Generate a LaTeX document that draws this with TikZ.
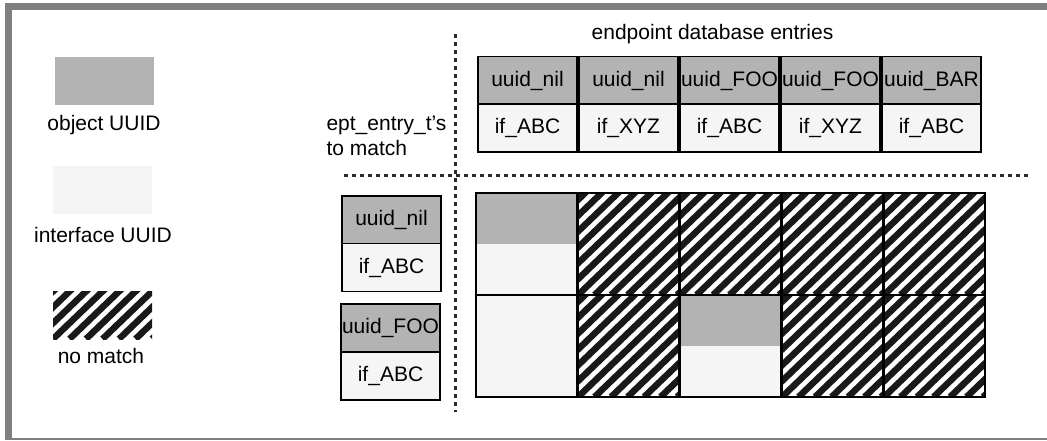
\documentclass[tikz,border=0pt]{standalone}
\usepackage{fontspec}
\setmainfont{Liberation Sans}
\usepackage{tikz}
\definecolor{objgray}{HTML}{B3B3B3}
\definecolor{ifwhite}{HTML}{F5F5F5}
\definecolor{framegray}{HTML}{808080}
\definecolor{dotgray}{HTML}{2A2A2A}
\usetikzlibrary{calc}

\tikzset{
  label text/.style={font=\fontsize{21}{25}\selectfont},
  entry/.style={
    rectangle,
    draw=black,
    line width=1.5pt,
    minimum width=99pt,
    minimum height=48pt,
    inner sep=0pt,
    label text},
  objentry/.style={entry, fill=objgray},
  ifentry/.style={entry, fill=ifwhite},
  matcell/.style={
    rectangle,
    draw=black,
    line width=1.5pt,
    minimum width=101pt,
    minimum height=102pt,
    inner sep=0pt},
  stripes/.style={
    path picture={
      \foreach \k in {-8,...,8}
        \draw[black!90,line width=6.5pt]
          ([xshift=\k*16.5pt]path picture bounding box.south west) -- ++(130pt,125pt);
    }},
  halfmatch/.style={
    fill=ifwhite,
    path picture={
      \fill[objgray] (path picture bounding box.north west)
        rectangle (path picture bounding box.east);
    }},
  ifonly/.style={fill=ifwhite},
  divider/.style={dotgray,line width=3pt,dash pattern=on 4pt off 4pt}
}

\begin{document}
\begin{tikzpicture}[x=1pt,y=-1pt]
  \useasboundingbox (0,0) rectangle (1047,440);

  % frame
  \fill[framegray] (5,3) rectangle (1047,10);
  \fill[framegray] (5,3) rectangle (12,440);
  \draw[framegray,line width=1.5pt] (12,439) -- (1047,439);

  % legend
  \node[rectangle,fill=objgray,minimum width=99pt,minimum height=48pt] at (104.5,81) (lobj) {};
  \node[label text,anchor=base] at (104,130) (lobjt) {object UUID};

  \node[rectangle,fill=ifwhite,minimum width=99pt,minimum height=48pt] at (102.5,190) (lif) {};
  \node[label text,anchor=base] at (103,242) (lift) {interface UUID};

  \node[rectangle,stripes,minimum width=99pt,minimum height=48pt] at (102.5,315) (lno) {};
  \node[label text,anchor=base] at (101,363) (lnot) {no match};

  % captions
  \node[label text,anchor=base] at (712.5,39) (dbcap) {endpoint database entries};
  \node[label text,anchor=west,align=left] at (323,136) (eptcap) {ept\_entry\_t’s\\to match};

  % dividers
  \coordinate (vtop) at (455,34);
  \coordinate (vbot) at (455,412);
  \coordinate (hleft) at (344,175);
  \coordinate (hright) at (1028,175);
  \draw[divider] (vtop) -- (vbot);
  \draw[divider] (hleft) -- (hright);

  % endpoint database entries
  \foreach \i/\o/\f in {1/uuid\_nil/if\_ABC, 2/uuid\_nil/if\_XYZ, 3/uuid\_FOO/if\_ABC,
                        4/uuid\_FOO/if\_XYZ, 5/uuid\_BAR/if\_ABC} {
    \node[objentry] at ({527.5+101*(\i-1)},80.5) (db\i o) {\o};
    \node[ifentry] at ({527.5+101*(\i-1)},128) (db\i i) {\f};
  }

  % entries to match
  \node[objentry] at (391.5,220) (m1o) {uuid\_nil};
  \node[ifentry] at (391.5,267.5) (m1i) {if\_ABC};
  \node[objentry] at (390.5,328) (m2o) {uuid\_FOO};
  \node[ifentry] at (390.5,376) (m2i) {if\_ABC};

  % result grid
  \foreach \r/\c/\kind in {1/1/halfmatch, 1/2/stripes, 1/3/stripes, 1/4/stripes, 1/5/stripes,
                           2/1/ifonly, 2/2/stripes, 2/3/halfmatch, 2/4/stripes, 2/5/stripes} {
    \node[matcell,\kind] at ({526.5+102*(\c-1)},{244+102*(\r-1)}) (g\r\c) {};
  }

\end{tikzpicture}
\end{document}
